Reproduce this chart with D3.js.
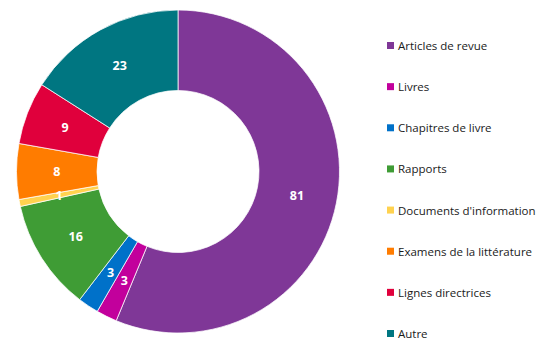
<!DOCTYPE html>
<html>
<head>
<meta charset="utf-8">
<script src="https://cdn.jsdelivr.net/npm/d3@7"></script>
<style>
  body { margin: 0; background: #fff; }
  svg { display: block; }
</style>
</head>
<body>
<svg id="chart" width="556" height="354"></svg>
<script>
let categories = ["Articles de revue", "Livres", "Chapitres de livre", "Rapports",
  "Documents d'information", "Examens de la littérature", "Lignes directrices", "Autre"];
let values = [81, 3, 3, 16, 1, 8, 9, 23];
let colors = ["#7f3797", "#c2009c", "#0071c9", "#3f9c35", "#ffd24f", "#ff7c00", "#e0003c", "#007681"];

let width = 556, height = 354;
let cx = 178, cy = 171.5, outerR = 161.5, innerR = 81;

let svg = d3.select("#chart");

let color = d3.scaleOrdinal().domain(categories).range(colors);

let pie = d3.pie().sort(null).value(d => d.value);
let arc = d3.arc().innerRadius(innerR).outerRadius(outerR);
let labelArc = d3.arc().innerRadius((innerR + outerR) / 2).outerRadius((innerR + outerR) / 2);

let data = categories.map((c, i) => ({ name: c, value: values[i] }));
let arcs = pie(data);

let g = svg.append("g").attr("transform", `translate(${cx},${cy})`);

g.selectAll("path")
  .data(arcs)
  .enter().append("path")
  .attr("d", arc)
  .attr("fill", d => color(d.data.name))
  .attr("stroke", "#fff")
  .attr("stroke-width", 0.75);

g.selectAll("text")
  .data(arcs)
  .enter().append("text")
  .attr("transform", d => `translate(${labelArc.centroid(d)})`)
  .attr("text-anchor", "middle")
  .attr("dy", "0.36em")
  .attr("fill", "#fff")
  .attr("font-family", "'Open Sans', sans-serif")
  .attr("font-weight", "bold")
  .attr("font-size", 12.5)
  .text(d => d.data.value);

// legend
let ly = d3.scalePoint().domain(categories).range([46, 334]);
let legend = svg.append("g");
let item = legend.selectAll("g")
  .data(categories)
  .enter().append("g")
  .attr("transform", d => `translate(387,${ly(d)})`);

item.append("rect")
  .attr("x", 0).attr("y", -4)
  .attr("width", 7).attr("height", 7)
  .attr("fill", d => color(d));

item.append("text")
  .attr("x", 11)
  .attr("dy", "0.35em")
  .attr("font-family", "'Open Sans', sans-serif")
  .attr("font-size", 11.5)
  .attr("fill", "#1a1a1a")
  .text(d => d);
</script>
</body>
</html>
